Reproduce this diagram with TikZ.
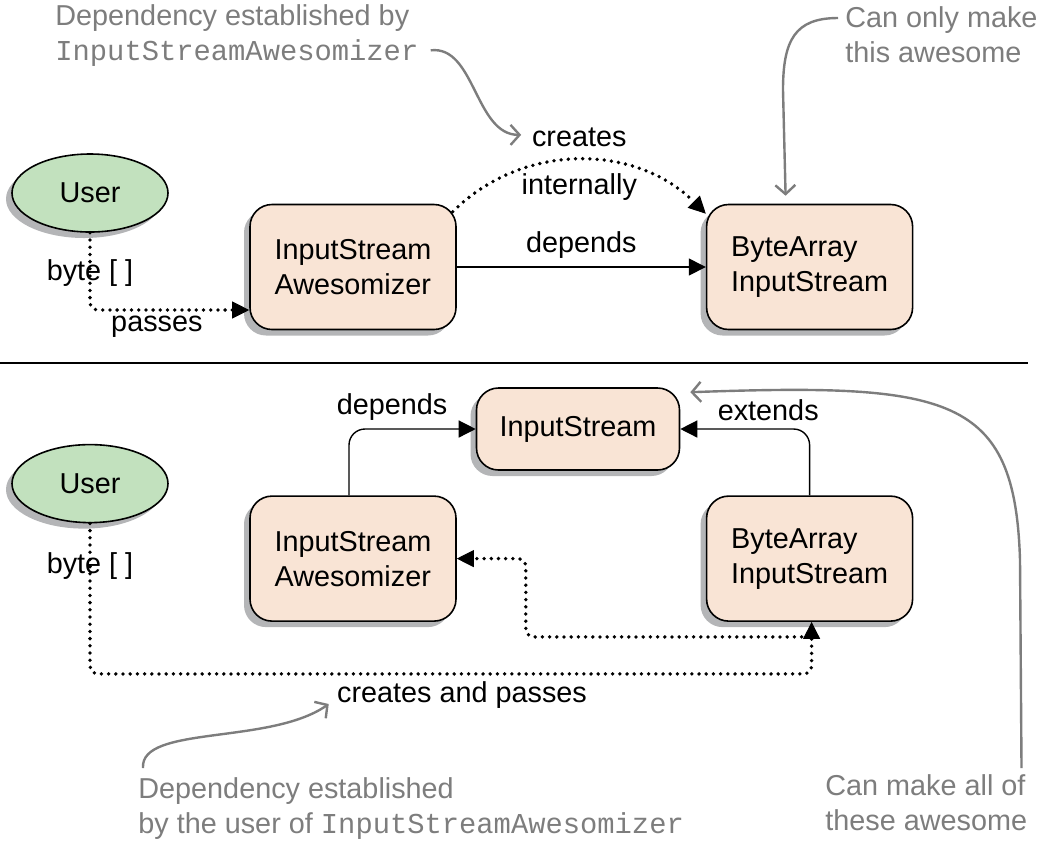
\documentclass[tikz,border=0pt]{standalone}
\usepackage{fontspec}
\setmainfont{Liberation Sans}
\setmonofont{Liberation Mono}
\usepackage{tikz}
\usetikzlibrary{arrows.meta, positioning, shapes.geometric, shadows}

\definecolor{boxfill}{RGB}{249,228,213}
\definecolor{userfill}{RGB}{194,225,190}
\definecolor{shadowgray}{RGB}{180,181,183}
\definecolor{notegray}{RGB}{125,125,125}
\newcommand{\diafont}{\fontsize{14.4}{17.5}\selectfont}

\begin{document}
\begin{tikzpicture}[
  x=0.5pt, y=-0.5pt,
  shade/.style ={drop shadow={shadow xshift=-3pt, shadow yshift=-3pt,
                  fill=shadowgray, opacity=1}},
  cls/.style   ={rectangle, draw=black, line width=0.8pt, rounded corners=11pt,
                 fill=boxfill, minimum width=103pt, minimum height=62.5pt,
                 align=left, font=\diafont, shade},
  usr/.style   ={ellipse, draw=black, line width=0.8pt, fill=userfill,
                 minimum width=78pt, minimum height=39pt, inner sep=0pt,
                 font=\diafont, shade},
  lbl/.style   ={inner sep=1pt, font=\diafont},
  note/.style  ={inner sep=0pt, align=left, text=notegray, font=\diafont},
  arr/.style   ={-{Triangle[length=8.5pt,width=8.5pt]}, line width=0.7pt},
  dots/.style  ={-{Triangle[length=8.5pt,width=8.5pt,line width=0.5pt]}, line width=1.9pt,
                 dash pattern=on 0pt off 3.6pt, line cap=round, rounded corners=4pt},
  ptr/.style   ={-{Straight Barb[length=4.5pt,width=10pt]}, draw=notegray, line width=1.2pt}
]
\useasboundingbox (0,0) rectangle (1039,843);
% ---- Top half: dependency made inside ---------------------------------------
\node[usr] (user1) at (90,193) {User};
\node[cls] (aw1) at (353,267) {InputStream\\Awesomizer};
\node[cls, right=124.5pt of aw1] (ba1) {ByteArray\\InputStream};
% ---- Bottom half: dependency handed in ---------------------------------------
\node[usr, below=105.5pt of user1] (user2) {User};
\node[cls, below=82.5pt of aw1] (aw2) {InputStream\\Awesomizer};
\node[cls, below=82.5pt of ba1] (ba2) {ByteArray\\InputStream};
\node[cls, minimum width=101.5pt, minimum height=41pt] (is) at (578,429) {InputStream};
\node[lbl] (cap) at (462,695) {creates and passes};
% ---- Notes -------------------------------------------------------------------
\node[note, anchor=north west] (note1) at (55,4) {Dependency established by\\\texttt{InputStreamAwesomizer}};
\node[note, anchor=north west] (note2) at (845,6) {Can only make\\this awesome};
\node[note, anchor=north west] (note3) at (138,777) {Dependency established\\by the user of \texttt{InputStreamAwesomizer}};
\node[note, anchor=north west] (note4) at (825,774) {Can make all of\\these awesome};
% ---- Separator ---------------------------------------------------------------
\draw[line width=0.6pt] (0,363) -- (1028,363);
% ---- Arrows (top) ------------------------------------------------------------
\draw[arr] (aw1) -- node[lbl, above=3pt] {depends} (ba1);
\draw[dots] ([xshift=-2pt,yshift=-4pt]aw1.north east) .. controls +(35pt,35pt) and +(-35pt,35pt) ..
  ([yshift=-5pt]ba1.north west)
  node[lbl, pos=0.5, above=5pt] (crt) {creates}
  node[lbl, pos=0.5, below=5pt] {internally};
\draw[dots] (user1.south) |- node[lbl, pos=0.26] {byte [ ]}
  node[lbl, pos=0.71, below=1pt] {passes} ([yshift=-21.5pt]aw1.west);
% ---- Arrows (bottom) ---------------------------------------------------------
\draw[arr, rounded corners=8pt] ([xshift=-2pt]aw2.north) |- node[lbl, pos=0.67, above=3pt] {depends} (is.west);
\draw[arr, rounded corners=8pt] (ba2.north) |- node[lbl, pos=0.66, above=3pt] {extends} (is.east);
\draw[dots] (user2.south) |- node[lbl, pos=0.14] {byte [ ]}
  ([xshift=1pt,yshift=-26pt]ba2.south) -- ([xshift=1pt]ba2.south);
\coordinate (bend) at ([xshift=34.5pt]aw2.east);
\draw[dots] ([xshift=-4pt,yshift=-7.5pt]ba2.south) -| (bend) -- (aw2.east);
% ---- Note pointers -----------------------------------------------------------
\draw[ptr] ([xshift=6pt,yshift=-7.5pt]note1.east) .. controls (475,45) and (475,135) ..
  ([xshift=-3.5pt,yshift=1pt]crt.west);
\draw[ptr] ([xshift=-3.5pt,yshift=-6pt]note2.north west) .. controls (795,18) and (783,40) ..
  (783,90) -- ([xshift=-12pt,yshift=4pt]ba1.north);
\draw[ptr] ([xshift=2.5pt,yshift=4.5pt]note3.north west) .. controls (140,725) and (270,745) ..
  ([xshift=-3pt,yshift=-4.5pt]cap.west);
\draw[ptr] ([xshift=-3pt,yshift=3pt]note4.north east) -- (1020,560) .. controls (1015,395) and (950,383) ..
  ([xshift=5pt,yshift=-2.5pt]is.north east);
\end{tikzpicture}
\end{document}
